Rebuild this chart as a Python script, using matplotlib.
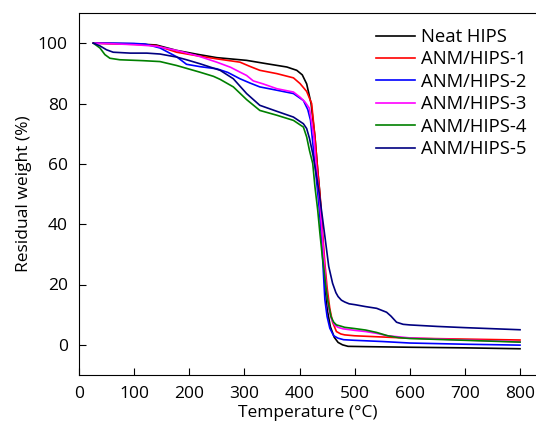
import matplotlib
matplotlib.use('Agg')
import matplotlib.pyplot as plt

plt.rcParams['font.family'] = ['Open Sans', 'DejaVu Sans']

# TGA curves (temperature in °C, residual weight in %)
neat_x = [26, 60, 100, 140, 177, 215, 250, 304, 340, 377, 395, 405, 413, 421, 428, 433,
          437, 441, 444, 447, 451, 456, 463, 470, 478, 488, 520, 600, 700, 800]
neat_y = [100, 99.9, 99.8, 99.4, 97.6, 96.3, 95.2, 94.3, 93.2, 92.1, 91.0, 89.5, 86.5,
          80.0, 69.0, 58.0, 50, 37, 27, 18, 11, 6, 2.5, 0.8, 0, -0.5, -0.6, -0.8, -1.0, -1.3]

hips1_x = [26, 60, 100, 140, 177, 215, 250, 292, 310, 328, 359, 389, 401, 413, 422, 428,
           433, 438, 442, 446, 450, 455, 460, 467, 475, 482, 500, 550, 600, 700, 800]
hips1_y = [100, 99.8, 99.6, 99.2, 97.0, 95.8, 94.8, 93.7, 92.3, 91.0, 89.9, 88.5, 86.6,
           84.0, 80.0, 68.9, 57.9, 48, 37, 27, 19, 12, 7.5, 4.4, 3.6, 3.3, 3.0, 2.6, 2.2,
           1.9, 1.6]

hips2_x = [26, 60, 100, 120, 147, 177, 195, 220, 250, 270, 292, 310, 328, 359, 389, 407,
           415, 420, 426, 432, 436, 440, 443, 446, 450, 455, 462, 470, 480, 500, 550, 600,
           700, 800]
hips2_y = [100, 100, 99.9, 99.7, 98.4, 95.5, 93.0, 92.2, 91.5, 90.3, 88.2, 86.8, 85.5,
           84.4, 83.3, 81.0, 78.0, 74.4, 63.4, 52.4, 44.7, 35, 25, 15, 9.4, 5.5, 3.0, 2.2,
           1.7, 1.5, 1.1, 0.6, 0.2, -0.1]

hips3_x = [26, 60, 100, 140, 177, 215, 250, 275, 292, 304, 316, 334, 359, 389, 401, 410,
           418, 426, 431, 437, 441, 445, 449, 453, 458, 464, 470, 479, 500, 520, 540, 560,
           600, 700, 800]
hips3_y = [100, 99.8, 99.5, 99.0, 97.6, 95.8, 93.7, 92.0, 90.4, 89.3, 87.5, 86.5, 84.9,
           83.8, 82.1, 80.5, 78.4, 68.9, 57.9, 46.9, 37, 27, 18, 12, 8.5, 6.5, 5.8, 5.3,
           4.8, 4.4, 3.8, 3.0, 2.3, 1.6, 1.0]

hips4_x = [26, 38, 47, 56, 74, 116, 147, 177, 219, 244, 256, 280, 304, 328, 359, 389, 407,
           413, 418, 424, 428, 433, 437, 441, 445, 448, 451, 457, 462, 467, 475, 482, 500,
           520, 540, 560, 580, 600, 700, 800]
hips4_y = [100, 98.4, 96.2, 95.0, 94.5, 94.2, 93.9, 92.6, 90.4, 89.0, 88.0, 85.5, 81.3,
           77.7, 76.1, 74.4, 72.2, 68.9, 64.5, 60.1, 52.4, 44.7, 37, 30, 24, 19, 14.9, 9.4,
           7.5, 6.6, 6.2, 5.8, 5.4, 4.9, 4.1, 3.0, 2.4, 2.1, 1.5, 0.9]

hips5_x = [26, 38, 50, 62, 93, 123, 147, 177, 195, 219, 256, 280, 304, 328, 359, 389, 407,
           413, 418, 424, 430, 436, 441, 446, 453, 460, 466, 470, 476, 482, 490, 501, 519,
           540, 558, 566, 576, 588, 600, 650, 700, 800]
hips5_y = [100, 99.1, 97.8, 97.0, 96.7, 96.7, 96.4, 95.4, 94.5, 93.2, 91.0, 88.2, 83.3,
           79.4, 77.4, 75.5, 73.3, 71.7, 68.5, 63.4, 57, 50, 43, 36, 26, 20.4, 17.3, 16.0,
           14.8, 14.2, 13.6, 13.3, 12.7, 12.1, 10.8, 9.5, 7.5, 6.8, 6.6, 6.1, 5.7, 5.0]

labels = ['Neat HIPS', 'ANM/HIPS-1', 'ANM/HIPS-2', 'ANM/HIPS-3', 'ANM/HIPS-4', 'ANM/HIPS-5']
colors = ['black', '#ff0000', '#0000ff', '#ff00ff', '#008000', '#000080']
series = [(neat_x, neat_y), (hips1_x, hips1_y), (hips2_x, hips2_y),
          (hips3_x, hips3_y), (hips4_x, hips4_y), (hips5_x, hips5_y)]

fig = plt.figure(figsize=(5.36, 4.32), dpi=100)
ax = fig.add_axes([79 / 536, 57 / 432, 1 - 79 / 536, 362 / 432])

for (x, y), lab, c in zip(series, labels, colors):
    ax.plot(x, y, color=c, lw=1.2, label=lab)

ax.set_xlim(0, 829)
ax.set_ylim(-10, 110)
ax.set_xticks(range(0, 801, 100))
ax.set_yticks(range(0, 101, 20))
ax.spines['right'].set_visible(False)
ax.tick_params(direction='in', length=5, width=0.8, labelsize=12.5, pad=8)
ax.set_xlabel('Temperature (°C)', fontsize=12.5, labelpad=2)
ax.set_ylabel('Residual weight (%)', fontsize=12.5, labelpad=4)

ax.legend(loc='upper left', bbox_to_anchor=(376 / 536, 1 - 28 / 432),
          bbox_transform=fig.transFigure, frameon=False, fontsize=13.3,
          borderpad=0, borderaxespad=0, handlelength=2.1, handletextpad=0.35,
          labelspacing=0.24)

fig.savefig('out.png', dpi=100)
